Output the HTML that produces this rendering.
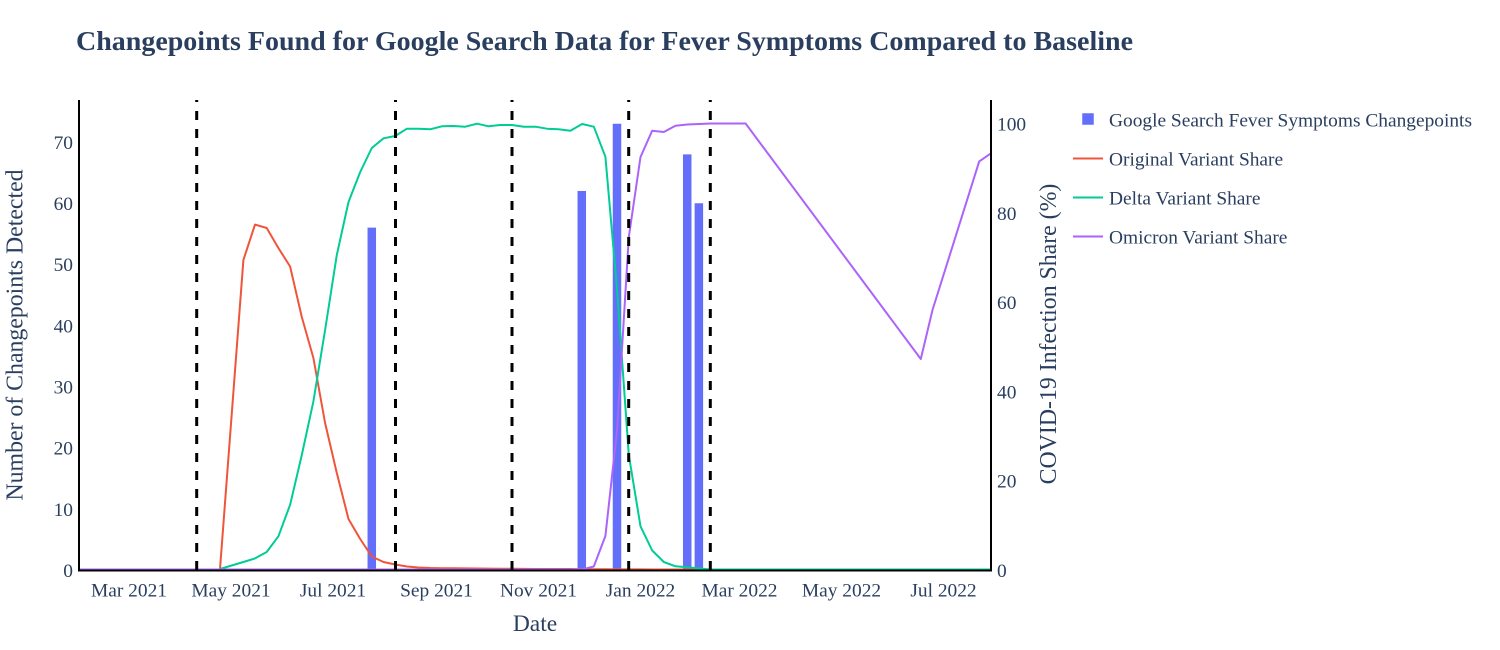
<!DOCTYPE html>
<html>
<head>
<meta charset="utf-8">
<style>
  html,body{margin:0;padding:0;background:#fff;}
  svg{display:block;}
  text{font-family:"Liberation Serif","Times New Roman",serif;fill:#2a3f5f;}
</style>
</head>
<body>
<svg width="1500" height="650" viewBox="0 0 1500 650" xmlns="http://www.w3.org/2000/svg">
  <rect x="0" y="0" width="1500" height="650" fill="#fff"/>

  <!-- Title -->
  <text x="76" y="50" font-size="27.6" font-weight="bold" textLength="1057" lengthAdjust="spacingAndGlyphs">Changepoints Found for Google Search Data for Fever Symptoms Compared to Baseline</text>

  <!-- Bars -->
  <g fill="#636efa" stroke="#ffffff" stroke-width="0.5">
    <rect x="367.3" y="227.4" width="9" height="342.6"/>
    <rect x="577.3" y="190.7" width="9" height="379.3"/>
    <rect x="612.5" y="123.5" width="9" height="446.5"/>
    <rect x="682.7" y="154.1" width="9" height="415.9"/>
    <rect x="694.4" y="203.0" width="9" height="367.0"/>
  </g>

  <!-- Original variant (red) -->
  <polyline fill="none" stroke="#EF553B" stroke-width="2" stroke-linejoin="round"
    points="220,569 243.4,260 255,224.6 266.7,228 278.4,248 290.1,266.5 301.8,317 313.4,358 325.1,423 336.8,473 348.5,519 360.2,539 371.8,556.5 383.5,562 395.2,564.5 406.9,566.5 418.6,567.5 430.2,568 441.9,568.2 453.6,568.3 465.3,568.4 477,568.5 488.6,568.6 500.3,568.7 512,568.8 523.7,568.9 535.4,569 547,569 558.7,569 570.4,569 582.1,569.2 593.8,569.3 605.4,569.3 617.1,569.4 628.8,569.4 640.5,569.4 652.2,569.5 663.8,569.5 675.5,569.5 687.2,569.5 698.9,569.5"/>

  <!-- Delta variant (green) -->
  <polyline fill="none" stroke="#00CC96" stroke-width="2" stroke-linejoin="round"
    points="220,569 231.7,565.5 243.4,562 255,558.4 266.7,552 278.4,536.3 290.1,504.8 301.8,455 313.4,401.4 325.1,330 336.8,255 348.5,202 360.2,172 371.8,148 383.5,138.3 395.2,136 406.9,128.7 418.6,128.7 430.2,129.3 441.9,126.3 453.6,126 465.3,126.7 477,123.7 488.6,126.3 500.3,125 512,125 523.7,126.7 535.4,126.7 547,128.7 558.7,129.3 570.4,130.7 582.1,124 593.8,126.7 605.4,156.7 617.1,290 628.8,455 640.5,526.3 652.2,550.5 663.8,562 675.5,566.3 687.2,567.3 698.9,568.4 710.6,569.5 991,569.5"/>

  <!-- Omicron variant (purple) -->
  <polyline fill="none" stroke="#AB63FA" stroke-width="2" stroke-linejoin="round"
    points="79,569.5 582.1,569.5 593.8,566.5 605.4,536 617.1,430 628.8,237 640.5,157 652.2,130.7 663.8,132 675.5,125.7 687.2,124.5 698.9,124 710.6,123.5 722.2,123.5 733.9,123.5 745.6,123.5 920.8,359 932.5,310 979.2,161.4 991,153.3"/>

  <!-- Vertical dashed lines -->
  <g stroke="#000" stroke-width="3" stroke-dasharray="9,9" fill="none">
    <path d="M196.7,570 L196.7,100"/>
    <path d="M395.5,570 L395.5,100"/>
    <path d="M512,570 L512,100"/>
    <path d="M628.7,570 L628.7,100"/>
    <path d="M710.3,570 L710.3,100"/>
  </g>

  <!-- Axes -->
  <g stroke="#000" stroke-width="2" fill="none">
    <path d="M79,100 L79,571"/>
    <path d="M991,100 L991,571"/>
    <path d="M78,570.5 L992,570.5"/>
  </g>

  <!-- Left tick labels -->
  <g font-size="19.4" text-anchor="end">
    <text x="73" y="577">0</text>
    <text x="73" y="515.8">10</text>
    <text x="73" y="454.7">20</text>
    <text x="73" y="393.5">30</text>
    <text x="73" y="332.3">40</text>
    <text x="73" y="271.2">50</text>
    <text x="73" y="210">60</text>
    <text x="73" y="148.8">70</text>
  </g>

  <!-- Right tick labels -->
  <g font-size="19.4" text-anchor="start">
    <text x="997" y="577">0</text>
    <text x="997" y="487.7">20</text>
    <text x="997" y="398.4">40</text>
    <text x="997" y="309.1">60</text>
    <text x="997" y="219.8">80</text>
    <text x="997" y="130.5">100</text>
  </g>

  <!-- X tick labels -->
  <g font-size="19.4" text-anchor="middle">
    <text x="129" y="596.5">Mar 2021</text>
    <text x="231" y="596.5">May 2021</text>
    <text x="333" y="596.5">Jul 2021</text>
    <text x="436.5" y="596.5">Sep 2021</text>
    <text x="538.5" y="596.5">Nov 2021</text>
    <text x="640.5" y="596.5">Jan 2022</text>
    <text x="739.5" y="596.5">Mar 2022</text>
    <text x="841.5" y="596.5">May 2022</text>
    <text x="943.5" y="596.5">Jul 2022</text>
  </g>

  <!-- Axis titles -->
  <text x="535" y="631" font-size="23.5" text-anchor="middle">Date</text>
  <text transform="translate(22.4,335) rotate(-90)" font-size="23.8" text-anchor="middle">Number of Changepoints Detected</text>
  <text transform="translate(1056,334) rotate(-90)" font-size="23.8" text-anchor="middle">COVID-19 Infection Share (%)</text>

  <!-- Legend -->
  <rect x="1082" y="113" width="12" height="12" fill="#636efa" stroke="#ffffff" stroke-width="0.5"/>
  <line x1="1073" y1="158.5" x2="1103" y2="158.5" stroke="#EF553B" stroke-width="2"/>
  <line x1="1073" y1="197.5" x2="1103" y2="197.5" stroke="#00CC96" stroke-width="2"/>
  <line x1="1073" y1="236.5" x2="1103" y2="236.5" stroke="#AB63FA" stroke-width="2"/>
  <g font-size="19.4">
    <text x="1109" y="126.5">Google Search Fever Symptoms Changepoints</text>
    <text x="1109" y="165.5">Original Variant Share</text>
    <text x="1109" y="204.5">Delta Variant Share</text>
    <text x="1109" y="243.5">Omicron Variant Share</text>
  </g>
</svg>
</body>
</html>
